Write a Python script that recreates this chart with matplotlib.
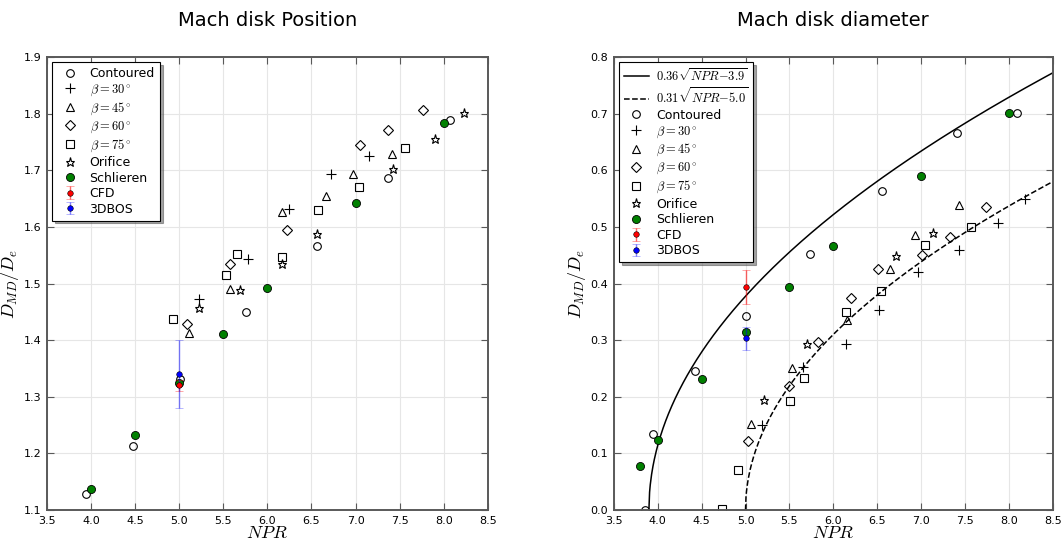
import numpy as np
import matplotlib
matplotlib.use("Agg")
import matplotlib.pyplot as plt

plt.rcParams['mathtext.fontset'] = 'cm'
plt.rcParams['font.family'] = 'DejaVu Sans'

# ---- Mach disk position (left) ----
pos_cont_x = [3.94, 4.47, 5.01, 5.76, 6.56, 7.37, 8.07]
pos_cont_y = [1.128, 1.213, 1.332, 1.449, 1.567, 1.686, 1.789]
pos_b30_x = [5.22, 5.78, 6.25, 6.72, 7.15]
pos_b30_y = [1.472, 1.544, 1.631, 1.694, 1.726]
pos_b45_x = [5.11, 5.58, 6.17, 6.66, 6.97, 7.41]
pos_b45_y = [1.413, 1.490, 1.627, 1.654, 1.694, 1.728]
pos_b60_x = [5.09, 5.58, 6.22, 7.05, 7.37, 7.76]
pos_b60_y = [1.429, 1.535, 1.594, 1.745, 1.771, 1.806]
pos_b75_x = [4.93, 5.53, 5.66, 6.17, 6.57, 7.04, 7.56]
pos_b75_y = [1.437, 1.515, 1.553, 1.547, 1.630, 1.670, 1.740]
pos_ori_x = [5.23, 5.69, 6.17, 6.56, 7.43, 7.90, 8.23]
pos_ori_y = [1.457, 1.489, 1.535, 1.587, 1.702, 1.756, 1.801]
pos_sch_x = [4.0, 4.5, 5.0, 5.5, 6.0, 7.0, 8.0]
pos_sch_y = [1.137, 1.232, 1.325, 1.411, 1.492, 1.642, 1.783]
pos_cfd = [5.0, 1.32, 0.01]
pos_bos = [5.0, 1.34, 0.06]

# ---- Mach disk diameter (right) ----
dia_cont_x = [3.85, 3.95, 4.43, 5.0, 5.74, 6.55, 7.41, 8.09]
dia_cont_y = [0.0, 0.135, 0.245, 0.343, 0.452, 0.564, 0.666, 0.702]
dia_b30_x = [5.19, 5.66, 6.15, 6.52, 6.97, 7.43, 7.87, 8.18]
dia_b30_y = [0.151, 0.253, 0.294, 0.353, 0.420, 0.459, 0.507, 0.549]
dia_b45_x = [5.06, 5.53, 6.16, 6.64, 6.93, 7.43]
dia_b45_y = [0.152, 0.251, 0.336, 0.425, 0.486, 0.538]
dia_b60_x = [5.03, 5.49, 5.83, 6.20, 6.51, 7.01, 7.33, 7.74]
dia_b60_y = [0.122, 0.219, 0.297, 0.374, 0.425, 0.450, 0.482, 0.536]
dia_b75_x = [4.73, 4.91, 5.51, 5.67, 6.15, 6.54, 7.04, 7.57]
dia_b75_y = [0.002, 0.070, 0.193, 0.233, 0.349, 0.387, 0.468, 0.499]
dia_ori_x = [5.21, 5.70, 6.71, 7.14]
dia_ori_y = [0.194, 0.294, 0.448, 0.489]
dia_sch_x = [3.8, 4.0, 4.5, 5.0, 5.5, 6.0, 7.0, 8.0]
dia_sch_y = [0.078, 0.124, 0.232, 0.315, 0.394, 0.467, 0.589, 0.702]
dia_cfd = [5.0, 0.393, 0.03]
dia_bos = [5.0, 0.303, 0.02]

fit1 = [0.36, 3.9]
fit2 = [0.31, 5.0]


def markers(ax, d):
    op = dict(ls='none', mfc='none', mec='k', mew=0.8)
    ax.plot(d[0], d[1], 'o', ms=5.5, label='Contoured', **op)
    ax.plot(d[2], d[3], '+', ms=6.5, label=r'$\beta=30^\circ$', **op)
    ax.plot(d[4], d[5], '^', ms=6, label=r'$\beta=45^\circ$', **op)
    ax.plot(d[6], d[7], 'D', ms=5.3, label=r'$\beta=60^\circ$', **op)
    ax.plot(d[8], d[9], 's', ms=5.5, label=r'$\beta=75^\circ$', **op)
    ax.plot(d[10], d[11], '*', ms=6.5, label='Orifice', **op)
    ax.plot(d[12], d[13], 'o', ls='none', ms=5.8, mfc='green', mec='k',
            mew=0.6, label='Schlieren')
    c = d[14]
    ax.errorbar([c[0]], [c[1]], yerr=[c[2]], fmt='o', ms=4, mfc='red',
                mec='k', mew=0.4, ecolor=(1, 0, 0, 0.6), capsize=3,
                elinewidth=1, label='CFD')
    b = d[15]
    ax.errorbar([b[0]], [b[1]], yerr=[b[2]], fmt='o', ms=4, mfc='blue',
                mec='k', mew=0.4, ecolor=(0, 0, 1, 0.5), capsize=3,
                elinewidth=1, label='3DBOS')


def style(ax, title):
    ax.grid(True, color='#e6e6e6', lw=0.8)
    ax.set_axisbelow(True)
    for s in ax.spines.values():
        s.set_color('0.35')
        s.set_linewidth(1.4)
    ax.tick_params(direction='in', top=True, right=True, length=5,
                   labelsize=8, color='0.35', pad=4)
    ax.set_xlim(3.5, 8.5)
    ax.set_xticks(np.arange(3.5, 8.51, 0.5))
    ax.set_xlabel(r'$NPR$', fontsize=13, labelpad=-1)
    ax.set_ylabel(r'$D_{MD}/D_e$', fontsize=13, labelpad=2)
    ax.set_title(title, fontsize=14, pad=22)
    leg = ax.legend(loc='upper left', numpoints=1, fontsize=9,
                    fancybox=False, shadow=True, handlelength=2.0,
                    handletextpad=0.6, borderaxespad=0.4,
                    labelspacing=0.2, framealpha=1)
    leg.get_frame().set_edgecolor('k')
    leg.get_frame().set_linewidth(0.8)


fig = plt.figure(figsize=(10.61, 5.41), dpi=100)
ax1 = fig.add_axes([0.0443, 0.0573, 0.4154, 0.8373])
ax2 = fig.add_axes([0.5785, 0.0573, 0.4138, 0.8373])

markers(ax1, [pos_cont_x, pos_cont_y, pos_b30_x, pos_b30_y, pos_b45_x,
              pos_b45_y, pos_b60_x, pos_b60_y, pos_b75_x, pos_b75_y,
              pos_ori_x, pos_ori_y, pos_sch_x, pos_sch_y, pos_cfd, pos_bos])
ax1.set_ylim(1.1, 1.9)
ax1.set_yticks(np.arange(1.1, 1.91, 0.1))
style(ax1, 'Mach disk Position')

xx1 = np.linspace(fit1[1], 8.5, 600)
xx2 = np.linspace(fit2[1], 8.5, 600)
ax2.plot(xx1, fit1[0] * np.sqrt(xx1 - fit1[1]), 'k-', lw=1.1,
         label=r'$0.36\sqrt{NPR{-}3.9}$')
ax2.plot(xx2, fit2[0] * np.sqrt(xx2 - fit2[1]), 'k--', lw=1.1,
         label=r'$0.31\sqrt{NPR{-}5.0}$')
markers(ax2, [dia_cont_x, dia_cont_y, dia_b30_x, dia_b30_y, dia_b45_x,
              dia_b45_y, dia_b60_x, dia_b60_y, dia_b75_x, dia_b75_y,
              dia_ori_x, dia_ori_y, dia_sch_x, dia_sch_y, dia_cfd, dia_bos])
ax2.set_ylim(0.0, 0.8)
ax2.set_yticks(np.arange(0.0, 0.81, 0.1))
style(ax2, 'Mach disk diameter')

fig.savefig('out.png', dpi=100)
